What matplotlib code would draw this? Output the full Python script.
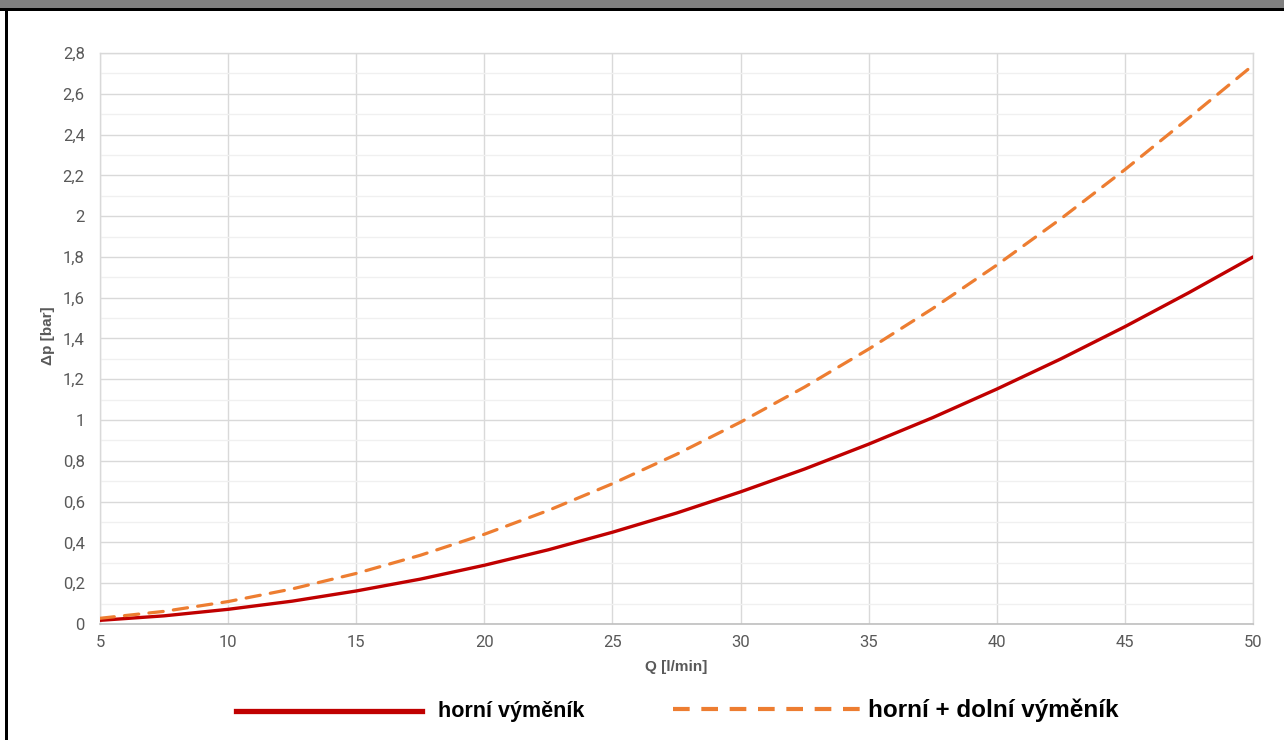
import matplotlib
matplotlib.use("Agg")
import matplotlib.pyplot as plt
from matplotlib.lines import Line2D
from matplotlib.patches import Rectangle
from matplotlib.ticker import MultipleLocator, FuncFormatter

plt.rcParams['font.family'] = ['Roboto', 'DejaVu Sans']

# Data
q = [5, 7.5, 10, 12.5, 15, 17.5, 20, 22.5, 25, 27.5, 30, 32.5, 35, 37.5, 40, 42.5, 45, 47.5, 50]
dp_horni = [0.018, 0.04, 0.072, 0.112, 0.162, 0.22, 0.288, 0.364, 0.45, 0.544, 0.648, 0.76,
            0.882, 1.012, 1.152, 1.30, 1.458, 1.625, 1.80]
dp_obe = [0.028, 0.062, 0.11, 0.172, 0.248, 0.337, 0.44, 0.557, 0.688, 0.832, 0.99, 1.162,
          1.348, 1.547, 1.76, 1.987, 2.228, 2.482, 2.74]
x_ticks = [5, 10, 15, 20, 25, 30, 35, 40, 45, 50]
label_horni = "horní výměník"
label_obe = "horní + dolní výměník"
xlabel = "Q [l/min]"
ylabel = "Δp [bar]"

W, H = 1284, 740
fig = plt.figure(figsize=(W / 100, H / 100), dpi=100)
fig.patch.set_facecolor("white")

# Top gray bar and black borders
fig.add_artist(Rectangle((0, 1 - 8 / H), 1, 8 / H, transform=fig.transFigure,
                         facecolor="#808080", edgecolor="none"))
fig.add_artist(Rectangle((0, 1 - 11 / H), 1, 3 / H, transform=fig.transFigure,
                         facecolor="black", edgecolor="none"))
fig.add_artist(Rectangle((5 / W, 0), 3 / W, 1 - 8 / H, transform=fig.transFigure,
                         facecolor="black", edgecolor="none"))

left, right, top, bottom = 100, 1253, 53, 624
ax = fig.add_axes([left / W, 1 - bottom / H, (right - left) / W, (bottom - top) / H])

ax.plot(q, dp_horni, color="#C00000", lw=2.4, solid_capstyle="round", zorder=3)
ax.plot(q, dp_obe, color="#ED7D31", lw=2.3, dashes=(4.5, 3.2), dash_capstyle="round", zorder=3)

ax.set_xlim(5, 50)
ax.set_ylim(0, 2.8)
ax.set_xticks(x_ticks)
ax.yaxis.set_major_locator(MultipleLocator(0.2))
ax.yaxis.set_minor_locator(MultipleLocator(0.1))

def fmt(v, pos):
    if abs(v - round(v)) < 1e-9:
        return str(int(round(v)))
    return f"{v:.1f}".replace(".", ",")

ax.yaxis.set_major_formatter(FuncFormatter(fmt))

ax.grid(True, which="major", color="#d9d9d9", lw=1.0, zorder=0)
ax.grid(True, which="minor", axis="y", color="#f0f0f0", lw=1.0, zorder=0)
for s in ["top", "right", "left"]:
    ax.spines[s].set_color("#d9d9d9")
    ax.spines[s].set_linewidth(1.0)
ax.spines["bottom"].set_color("#bfbfbf")
ax.spines["bottom"].set_linewidth(1.2)
ax.tick_params(which="both", length=0)
ax.tick_params(axis="both", labelsize=12, colors="#595959")
ax.tick_params(axis="y", pad=11)
ax.tick_params(axis="x", pad=8)

# Axis titles placed at their positions in the reference
fig.text(676 / W, 1 - 667 / H, xlabel, fontsize=11, fontweight="bold", color="#595959",
         family=["Liberation Sans", "DejaVu Sans"], ha="center", va="center")
fig.text(48 / W, 1 - 336 / H, ylabel, fontsize=11, fontweight="bold", color="#595959",
         family=["Liberation Sans", "DejaVu Sans"], ha="center", va="center", rotation=90)

# Custom legend
fig.add_artist(Line2D([236 / W, 422 / W], [1 - 711 / H] * 2, transform=fig.transFigure,
                      color="#C00000", lw=3.8))
fig.text(438 / W, 1 - 711 / H, label_horni, fontsize=15.5, fontweight="bold",
         family=["Liberation Sans Narrow", "Liberation Sans"], va="center", ha="left", color="black")
fig.add_artist(Line2D([673 / W, 860 / W], [1 - 709 / H] * 2, transform=fig.transFigure,
                      color="#ED7D31", lw=3.0, dashes=(4, 2.8)))
fig.text(868 / W, 1 - 710 / H, label_obe, fontsize=17.5, fontweight="bold",
         family=["Liberation Sans Narrow", "Liberation Sans"], va="center", ha="left", color="black")

fig.savefig("out.png", dpi=100)
